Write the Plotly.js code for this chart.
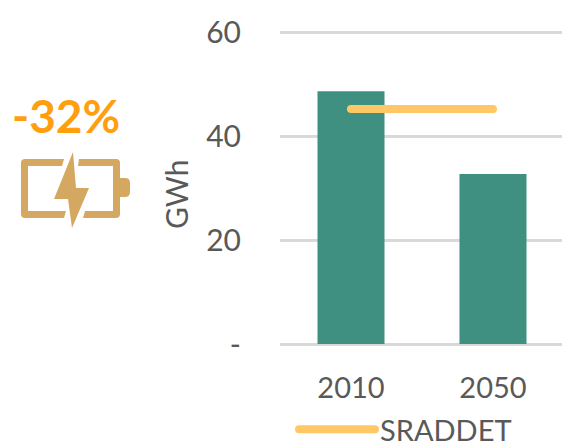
<!DOCTYPE html>
<html><head><meta charset="utf-8">
<script src="https://cdn.plot.ly/plotly-3.0.1.min.js"></script>
<style>html,body{margin:0;padding:0;background:#fff}.js-line{stroke-linecap:round}</style>
</head><body><div id="chart" style="width:564px;height:446px"></div>
<script>
const categories = ['2010', '2050'];
const barValues = [48.6, 32.7];
const sradValues = [45.2, 45.2];
const tickVals = [0, 20, 40, 60];
const tickText = ['-', '20', '40', '60'];
const W = 564, H = 446, L = 280, R = 2, T = 30, B = 100;
const font = 'Lato, "Open Sans", sans-serif';
const grey = '#595959';
const icon = "<svg xmlns='http://www.w3.org/2000/svg' width='564' height='446' viewBox='0 0 564 446'>" +
  "<path fill='#D5A862' d='M25 159H64L62 166H28V211H66L64 218H25Q21 218 21 214V163Q21 159 25 159Z'/>" +
  "<path fill='#D5A862' d='M79 159H116Q120 159 120 163V214Q120 218 116 218H83L85 211H113V166H78Z'/>" +
  "<path fill='#D5A862' d='M120 178H125Q130 178 130 183V192Q130 197 125 197H120Z'/>" +
  "<path fill='#D5A862' d='M73 152L54 199H68L72 228L89 188H76Z'/></svg>";
const data = [
  {type:'bar', x:categories, y:barValues, marker:{color:'#3F9081'}, width:0.472, showlegend:false, hoverinfo:'y'},
  {type:'scatter', mode:'lines', x:categories, y:sradValues, name:'SRADDET', line:{color:'#FFC864', width:8}}
];
const layout = {
  width:W, height:H, margin:{l:L, r:R, t:T, b:B, autoexpand:false},
  paper_bgcolor:'#fff', plot_bgcolor:'#fff',
  font:{family:font, color:grey, size:30},
  showlegend:true,
  legend:{orientation:'h', x:(294-L)/(W-L-R), xanchor:'left', y:-(404-(H-B))/(H-T-B), yanchor:'top', itemwidth:76,
          font:{family:font, size:29, color:grey}, bgcolor:'rgba(0,0,0,0)', tracegroupgap:0},
  xaxis:{type:'category', range:[-0.5,1.486], showgrid:false, zeroline:false, showline:false, ticks:'',
         ticklabelstandoff:22, tickfont:{family:font, size:29, color:grey}},
  yaxis:{range:[-0.385,60.385], tickvals:tickVals, ticktext:tickText, gridcolor:'#D9D9D9', gridwidth:3, zeroline:false, showline:false,
         ticks:'', ticklabelstandoff:38, tickfont:{family:font, size:30, color:grey}},
  annotations:[
    {text:'GWh', textangle:-90, xref:'paper', yref:'paper', x:(176-L)/(W-L-R), y:(H-B-195)/(H-T-B), xanchor:'center', yanchor:'middle', showarrow:false, font:{family:font, size:30, color:grey}},
    {text:'<b>-32%</b>', xref:'paper', yref:'paper', x:(66-L)/(W-L-R), y:(H-B-115)/(H-T-B), xanchor:'center', yanchor:'middle', showarrow:false, font:{family:font, size:46, color:'#FF9F0F'}}
  ],
  images:[{source:'data:image/svg+xml,'+encodeURIComponent(icon), xref:'paper', yref:'paper',
           x:-L/(W-L-R), y:(H-B)/(H-T-B), sizex:W/(W-L-R), sizey:H/(H-T-B), xanchor:'left', yanchor:'top', sizing:'stretch', layer:'above'}]
};
Plotly.newPlot('chart', data, layout, {displayModeBar:false, staticPlot:true});
</script></body></html>
